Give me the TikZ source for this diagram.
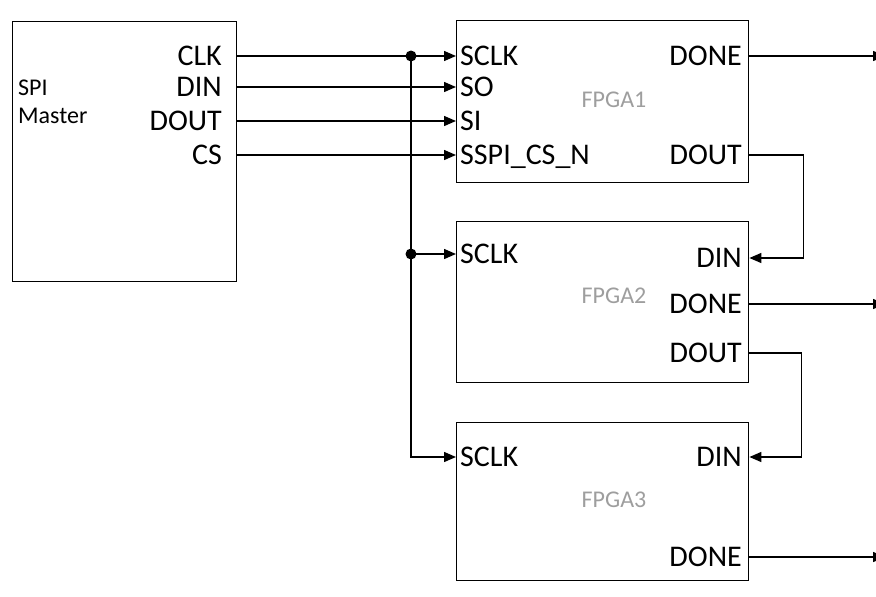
\documentclass[tikz,border=0pt]{standalone}
\usepackage{fontspec}
\setmainfont{Carlito}
\usetikzlibrary{arrows.meta}
\newcommand\portsize{\fontsize{30}{30}\selectfont}
\newcommand\namesize{\fontsize{24}{28}\selectfont}
\tikzset{
  blk/.style={draw, line width=1.4pt, anchor=north west, inner sep=0pt},
  port/.style={font=\portsize, inner sep=0pt, text height=19pt, text depth=0pt},
  wire/.style={line width=1.4pt},
  sig/.style={wire, -{Triangle[length=12pt, width=10pt]}},
  chipname/.style={font=\namesize, text=black!38, inner sep=0pt},
  jdot/.style={circle, fill, inner sep=0pt, minimum size=11pt},
}

\begin{document}
\begin{tikzpicture}[x=1pt, y=-1pt]
  \useasboundingbox (0,0) rectangle (876,597);
  \clip (0,0) rectangle (876,597);
  % blocks
  \node[blk, minimum width=224pt, minimum height=260pt] (master) at (12,21) {};
  \node[blk, minimum width=292pt, minimum height=162pt] (f1) at (456,20) {};
  \node[blk, minimum width=292pt, minimum height=161pt] (f2) at (456,221) {};
  \node[blk, minimum width=292pt, minimum height=158pt] (f3) at (456,422) {};
  \node[font=\namesize, inner sep=0pt, anchor=base west] (mspi) at (18,95) {SPI};
  \node[font=\namesize, inner sep=0pt, anchor=base west] (mmaster) at (18,123) {Master};
  \node[chipname] (f1name) at (614,100) {FPGA1};
  \node[chipname] (f2name) at (614,296) {FPGA2};
  \node[chipname] (f3name) at (614,500) {FPGA3};
  % ports
  \foreach \name/\txt/\y in {mclk/CLK/56, mdin/DIN/87, mdout/DOUT/121, mcs/CS/155}
    \node[port, anchor=east] (\name) at (222,\y) {\txt};
  \foreach \name/\txt/\y in {f1sclk/SCLK/56, f1so/SO/87, f1si/SI/121, f1cs/SSPI\_CS\_N/155,
                             f2sclk/SCLK/254, f3sclk/SCLK/457}
    \node[port, anchor=west] (\name) at (460,\y) {\txt};
  \foreach \name/\txt/\y in {f1done/DONE/56, f1dout/DOUT/155, f2din/DIN/258, f2done/DONE/304,
                             f2dout/DOUT/353, f3din/DIN/457, f3done/DONE/557}
    \node[port, anchor=east] (\name) at (742,\y) {\txt};
  \coordinate (bus) at (411,56);
  \coordinate (edge) at (885,0);
  % master to FPGA1
  \foreach \src/\dst in {mclk/f1sclk, mdin/f1so, mdout/f1si, mcs/f1cs}
    \draw[sig] (master.east |- \src) -- (f1.west |- \dst);
  % clock bus
  \draw[sig] (bus) -- (bus |- f3sclk) -- (f3.west |- f3sclk);
  \draw[sig] (bus |- f2sclk) -- (f2.west |- f2sclk);
  \node[jdot] (j1) at (bus) {};
  \node[jdot] (j2) at (bus |- f2sclk) {};
  % daisy chain
  \draw[sig] (f1.east |- f1dout) -- ++(54,0) |- (f2.east |- f2din);
  \draw[sig] (f2.east |- f2dout) -- ++(52,0) |- (f3.east |- f3din);
  % done outputs
  \foreach \src in {f1done, f2done, f3done}
    \draw[sig] (f1.east |- \src) -- (edge |- \src);
\end{tikzpicture}
\end{document}
